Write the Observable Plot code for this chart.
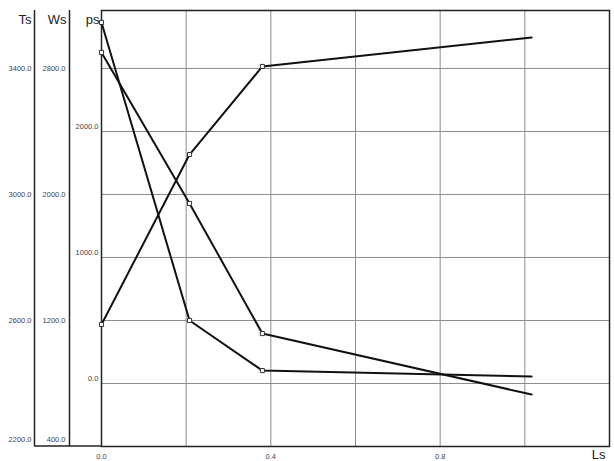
<!DOCTYPE html>
<html>
<head>
<meta charset="utf-8">
<script src="https://cdn.jsdelivr.net/npm/d3@7"></script>
<script src="https://cdn.jsdelivr.net/npm/@observablehq/plot@0.6"></script>
<style>
  html, body { margin: 0; padding: 0; background: #fff; }
</style>
</head>
<body>
<div id="chart"></div>
<script>
// ---- data ----
const Ls = [0, 0.208, 0.38, 1.016];
const psValues = [468, 1817, 2516, 2746];
const TsValues = [3546, 2600, 2441, 2422];
const WsValues = [2902, 1943, 1117, 730];

const xGrid = [0.2, 0.4, 0.6, 0.8, 1.0];
const xTickLabels = [0, 0.4, 0.8];

const TsTicks = [2200, 2600, 3000, 3400];
const WsTicks = [400, 1200, 2000, 2800];
const psTicks = [0, 1000, 2000];

// axis definitions: value at bottom gridline and value per gridline
const axes = {
  Ts: { base: 2200, step: 200 },
  Ws: { base: 400, step: 400 },
  ps: { base: -500, step: 500 }
};
const toGrid = (name, v) => (v - axes[name].base) / axes[name].step;
const gridLines = [1, 2, 3, 4, 5, 6];
const yTop = 6.92;
const markedPoints = 3;

const series = [
  { name: "ps", values: psValues },
  { name: "Ts", values: TsValues },
  { name: "Ws", values: WsValues }
];
const rows = series.flatMap(s => s.values.map((v, i) => ({ series: s.name, i, x: Ls[i], y: toGrid(s.name, v) })));

const fmt = v => v.toFixed(1);
const axisColor = "#222";
const labelColor = "#444";

const tickText = (name, ticks, dx, dy, bottomDy) => [
  Plot.text(ticks.filter(t => toGrid(name, t) > 0), {
    x: 0, y: t => toGrid(name, t), text: fmt, dx, dy,
    textAnchor: "end", fontSize: 7.5, fill: labelColor
  }),
  Plot.text(ticks.filter(t => toGrid(name, t) <= 0), {
    x: 0, y: t => toGrid(name, t), text: fmt, dx, dy: bottomDy,
    textAnchor: "end", fontSize: 7.5, fill: labelColor
  })
];

const chart = Plot.plot({
  width: 614,
  height: 461,
  marginLeft: 101,
  marginRight: 5,
  marginTop: 10,
  marginBottom: 15,
  x: { domain: [0, 1.2], axis: null },
  y: { domain: [0, yTop], axis: null },
  style: { fontFamily: "Liberation Sans, Arial, sans-serif", background: "#fff", overflow: "visible" },
  marks: [
    Plot.ruleX(xGrid, { stroke: "#8c8c8c", strokeWidth: 1 }),
    Plot.ruleY(gridLines, { stroke: "#8c8c8c", strokeWidth: 1 }),
    Plot.frame({ stroke: axisColor, strokeWidth: 1.5 }),
    Plot.ruleX([0], { dx: -67, stroke: axisColor, strokeWidth: 1.5 }),
    Plot.ruleX([0], { dx: -32, stroke: axisColor, strokeWidth: 1.5 }),
    ...tickText("Ts", TsTicks, -70, 0, -7),
    ...tickText("Ws", WsTicks, -36, 0, -7),
    ...tickText("ps", psTicks, -3, -5, -5),
    Plot.text(["Ts"], { x: 0, y: yTop, dx: -70, dy: 9, textAnchor: "end", fontSize: 13, fill: axisColor }),
    Plot.text(["Ws"], { x: 0, y: yTop, dx: -35, dy: 9, textAnchor: "end", fontSize: 13, fill: axisColor }),
    Plot.text(["ps"], { x: 0, y: yTop, dx: -2, dy: 9, textAnchor: "end", fontSize: 13, fill: axisColor }),
    Plot.text(xTickLabels, { x: d => d, y: 0, text: fmt, dy: 10, fontSize: 7.5, fill: labelColor }),
    Plot.text(["Ls"], { x: 1.2, y: 0, dx: -4, dy: 8, textAnchor: "end", fontSize: 13, fill: axisColor }),
    Plot.line(rows, { x: "x", y: "y", z: "series", stroke: "#111", strokeWidth: 2 }),
    Plot.dot(rows.filter(d => d.i < markedPoints), { x: "x", y: "y", symbol: "square", r: 2.3, fill: "#fff", stroke: "#333", strokeWidth: 1 })
  ]
});

const xs = chart.scale("x"), ys = chart.scale("y");
d3.select(chart).append("line")
  .attr("x1", xs.apply(0) - 67).attr("x2", xs.apply(0))
  .attr("y1", ys.apply(0)).attr("y2", ys.apply(0))
  .attr("stroke", axisColor).attr("stroke-width", 1.5);

document.getElementById("chart").appendChild(chart);
</script>
</body>
</html>
